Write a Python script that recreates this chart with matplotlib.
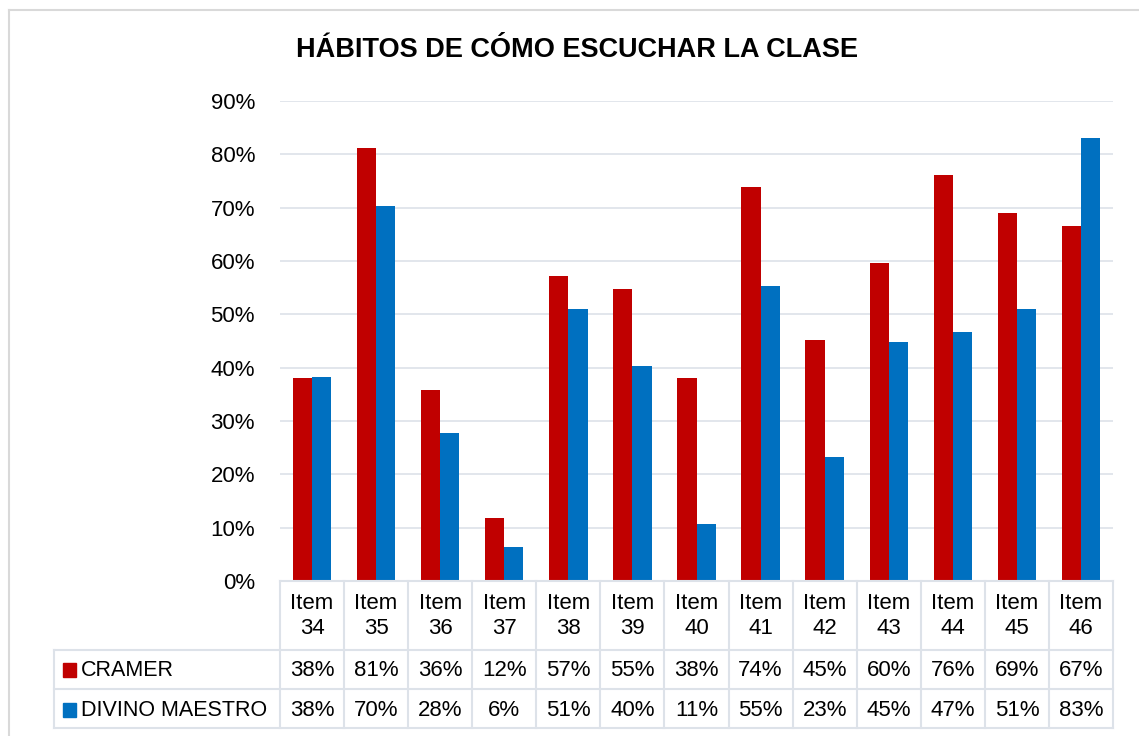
import matplotlib
matplotlib.use("Agg")
import matplotlib.pyplot as plt
import matplotlib.transforms as mtransforms
from matplotlib.patches import Rectangle
from matplotlib.lines import Line2D
from matplotlib.ticker import PercentFormatter
import numpy as np

# data
items = ["Item\n34", "Item\n35", "Item\n36", "Item\n37", "Item\n38", "Item\n39", "Item\n40",
         "Item\n41", "Item\n42", "Item\n43", "Item\n44", "Item\n45", "Item\n46"]
cramer = [38.1, 81.2, 35.8, 11.8, 57.2, 54.8, 38.1, 73.9, 45.2, 59.6, 76.1, 69.0, 66.6]
divino = [38.3, 70.3, 27.8, 6.4, 51.0, 40.3, 10.6, 55.4, 23.3, 44.8, 46.7, 51.0, 83.1]
series_names = ["CRAMER", "DIVINO MAESTRO"]
colors = ["#C00000", "#0070C0"]

plt.rcParams["font.family"] = ["Liberation Sans", "DejaVu Sans"]

W, H = 1139, 736
fig = plt.figure(figsize=(W / 100, H / 100), dpi=100)

def fx(x):
  return x / W

def fy(y):
  return 1 - y / H

ax = fig.add_axes([fx(280), fy(581), fx(1113) - fx(280), fy(101) - fy(581)])

x = np.arange(len(items))
w = 0.30
ax.bar(x - w / 2, np.array(cramer) / 100, w, color=colors[0], zorder=3)
ax.bar(x + w / 2, np.array(divino) / 100, w, color=colors[1], zorder=3)

grid_color = "#dde2e9"
fs = 16
ax.set_xlim(-0.5, len(items) - 0.5)
ax.set_ylim(0, 0.9)
ax.set_yticks(np.arange(0, 0.91, 0.1))
ax.yaxis.set_major_formatter(PercentFormatter(1.0, decimals=0))
ax.tick_params(axis="y", length=0, pad=18, labelsize=fs)
ax.set_xticks([])
ax.grid(axis="y", color=grid_color, linewidth=1.2, zorder=0)
for s in ax.spines.values():
  s.set_visible(False)

fig.text(fx(577), fy(50), "HÁBITOS DE CÓMO ESCUCHAR LA CLASE", ha="center", va="center",
         fontsize=19.5, fontweight="bold")

# data table under the plot
trans = mtransforms.blended_transform_factory(ax.transData, fig.transFigure)
lw = 1.5
y_top, y_h1, y_h2, y_bot = fy(581), fy(650), fy(689), fy(728)
for b in np.arange(-0.5, len(items)):
  fig.add_artist(Line2D([b, b], [y_top, y_bot], transform=trans, color=grid_color, lw=lw))
fig.add_artist(Line2D([-0.5, len(items) - 0.5], [y_top, y_top], transform=trans, color=grid_color, lw=lw))
for yy in (y_h1, y_h2, y_bot):
  fig.add_artist(Line2D([fx(54), fx(1113)], [yy, yy], transform=fig.transFigure, color=grid_color, lw=lw))
fig.add_artist(Line2D([fx(54), fx(54)], [y_h1, y_bot], transform=fig.transFigure, color=grid_color, lw=lw))

for i, lab in enumerate(items):
  fig.text(i, fy(616), lab, transform=trans, ha="center", va="center", fontsize=fs, linespacing=1.3)
  fig.text(i, fy(670), f"{round(cramer[i])}%", transform=trans, ha="center", va="center", fontsize=fs)
  fig.text(i, fy(710), f"{round(divino[i])}%", transform=trans, ha="center", va="center", fontsize=fs)

for k, (name, c) in enumerate(zip(series_names, colors)):
  yc = 670 + 40 * k
  fig.add_artist(Rectangle((fx(63), fy(yc + 7)), fx(13), fy(yc - 7) - fy(yc + 7),
                           transform=fig.transFigure, color=c))
  fig.text(fx(81), fy(yc), name, ha="left", va="center", fontsize=15.5)

# chart border
fig.add_artist(Line2D([fx(9), fx(9)], [fy(10), 0], transform=fig.transFigure, color="#d9d9d9", lw=1.5))
fig.add_artist(Line2D([fx(9), 1], [fy(10), fy(10)], transform=fig.transFigure, color="#d9d9d9", lw=1.5))

fig.savefig("out.png", dpi=100)
